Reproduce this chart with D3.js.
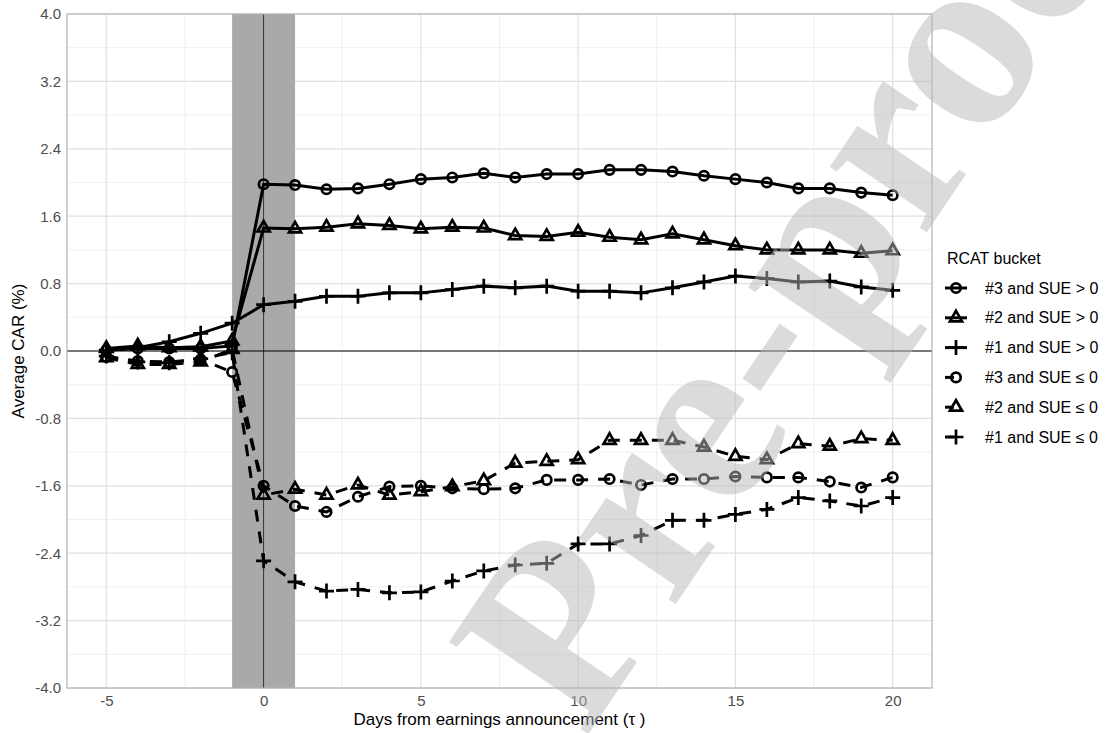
<!DOCTYPE html>
<html>
<head>
<meta charset="utf-8">
<script src="https://cdn.jsdelivr.net/npm/d3@7"></script>
<style>
  body { margin: 0; background: #fff; }
  svg { display: block; font-family: "Liberation Sans", Arial, sans-serif; }
</style>
</head>
<body>
<svg id="chart" width="1110" height="733"></svg>
<script>
// days relative to announcement
var days = [-5, -4, -3, -2, -1, 0, 1, 2, 3, 4, 5, 6, 7, 8, 9, 10, 11, 12, 13, 14, 15, 16, 17, 18, 19, 20];

// average CAR (%) per bucket
var rcat3Pos = [0.01, 0.03, 0.03, 0.03, 0.06, 1.98, 1.97, 1.92, 1.93, 1.98, 2.04, 2.06, 2.11, 2.06, 2.10, 2.10, 2.15, 2.15, 2.13, 2.08, 2.04, 2.00, 1.93, 1.93, 1.88, 1.85];
var rcat2Pos = [0.03, 0.06, 0.04, 0.05, 0.12, 1.46, 1.45, 1.47, 1.51, 1.49, 1.45, 1.47, 1.46, 1.37, 1.36, 1.41, 1.35, 1.32, 1.39, 1.32, 1.25, 1.20, 1.20, 1.20, 1.16, 1.19];
var rcat1Pos = [0.01, 0.04, 0.11, 0.21, 0.33, 0.55, 0.59, 0.65, 0.65, 0.69, 0.69, 0.73, 0.77, 0.75, 0.77, 0.71, 0.71, 0.69, 0.75, 0.82, 0.89, 0.86, 0.82, 0.83, 0.76, 0.72];
var rcat3Neg = [-0.07, -0.12, -0.13, -0.10, -0.25, -1.60, -1.84, -1.91, -1.73, -1.61, -1.60, -1.63, -1.64, -1.63, -1.53, -1.53, -1.52, -1.59, -1.52, -1.52, -1.49, -1.50, -1.50, -1.55, -1.62, -1.50];
var rcat2Neg = [-0.08, -0.16, -0.16, -0.13, 0.02, -1.71, -1.64, -1.71, -1.59, -1.71, -1.67, -1.61, -1.54, -1.33, -1.31, -1.29, -1.06, -1.06, -1.06, -1.14, -1.25, -1.29, -1.10, -1.13, -1.04, -1.06];
var rcat1Neg = [-0.06, -0.13, -0.14, -0.09, -0.02, -2.49, -2.74, -2.85, -2.83, -2.87, -2.86, -2.73, -2.61, -2.54, -2.52, -2.29, -2.29, -2.19, -2.01, -2.01, -1.94, -1.88, -1.74, -1.78, -1.84, -1.74];

var seriesNames = ["#3 and SUE > 0", "#2 and SUE > 0", "#1 and SUE > 0", "#3 and SUE \u2264 0", "#2 and SUE \u2264 0", "#1 and SUE \u2264 0"];
var seriesShapes = ["circle", "triangle", "plus", "circle", "triangle", "plus"];
var seriesDashed = [false, false, false, true, true, true];
var seriesValues = [rcat3Pos, rcat2Pos, rcat1Pos, rcat3Neg, rcat2Neg, rcat1Neg];

var xTicks = [-5, 0, 5, 10, 15, 20];
var xTickLabels = ["-5", "0", "5", "10", "15", "20"];
var xMinor = [-2.5, 2.5, 7.5, 12.5, 17.5];
var yTicks = [-4, -3.2, -2.4, -1.6, -0.8, 0, 0.8, 1.6, 2.4, 3.2, 4];
var yTickLabels = ["-4.0", "-3.2", "-2.4", "-1.6", "-0.8", "0.0", "0.8", "1.6", "2.4", "3.2", "4.0"];
var yMinor = [-3.6, -2.8, -2.0, -1.2, -0.4, 0.4, 1.2, 2.0, 2.8, 3.6];
var eventWindow = [-1, 1];

var svg = d3.select("#chart");
var plotLeft = 67, plotRight = 932, plotTop = 14, plotBottom = 688;

var x = d3.scaleLinear().domain([-6.25, 21.25]).range([plotLeft, plotRight]);
var y = d3.scaleLinear().domain([-4, 4]).range([plotBottom, plotTop]);

var grid = svg.append("g");
grid.selectAll(".hmin").data(yMinor).enter().append("line")
  .attr("x1", plotLeft).attr("x2", plotRight)
  .attr("y1", d => y(d)).attr("y2", d => y(d))
  .attr("stroke", "#ececec").attr("stroke-width", 0.8);
grid.selectAll(".vmin").data(xMinor).enter().append("line")
  .attr("y1", plotTop).attr("y2", plotBottom)
  .attr("x1", d => x(d)).attr("x2", d => x(d))
  .attr("stroke", "#ececec").attr("stroke-width", 0.8);
grid.selectAll(".hmaj").data(yTicks).enter().append("line")
  .attr("x1", plotLeft).attr("x2", plotRight)
  .attr("y1", d => y(d)).attr("y2", d => y(d))
  .attr("stroke", "#e0e0e0").attr("stroke-width", 1.2);
grid.selectAll(".vmaj").data(xTicks).enter().append("line")
  .attr("y1", plotTop).attr("y2", plotBottom)
  .attr("x1", d => x(d)).attr("x2", d => x(d))
  .attr("stroke", "#e0e0e0").attr("stroke-width", 1.2);

// event window shading
svg.append("rect")
  .attr("x", x(eventWindow[0])).attr("y", plotTop)
  .attr("width", x(eventWindow[1]) - x(eventWindow[0]))
  .attr("height", plotBottom - plotTop)
  .attr("fill", "#a9a9a9");

svg.append("line")
  .attr("x1", x(0)).attr("x2", x(0)).attr("y1", plotTop).attr("y2", plotBottom)
  .attr("stroke", "#333").attr("stroke-width", 1);
svg.append("line")
  .attr("x1", plotLeft).attr("x2", plotRight).attr("y1", y(0)).attr("y2", y(0))
  .attr("stroke", "#000").attr("stroke-width", 1);

// lines
var line = d3.line().x((d, i) => x(days[i])).y(d => y(d));
svg.append("g").selectAll("path").data(seriesValues).enter().append("path")
  .attr("d", d => line(d))
  .attr("fill", "none")
  .attr("stroke", "#000")
  .attr("stroke-width", 3)
  .attr("stroke-dasharray", (d, i) => seriesDashed[i] ? "12,10" : null);

function shapePath(shape) {
  if (shape == "circle") {
    var p = d3.path(); p.arc(0, 0, 4.7, 0, 2 * Math.PI); return p.toString();
  }
  if (shape == "triangle") {
    var r = 7;
    return "M0," + (-r) + "L" + (r * 0.866) + "," + (r * 0.5) + "L" + (-r * 0.866) + "," + (r * 0.5) + "Z";
  }
  return "M-7.5,0H7.5M0,-7.5V7.5";
}

// points
seriesValues.forEach(function(vals, s) {
  svg.append("g").selectAll("path").data(vals).enter().append("path")
    .attr("transform", (d, i) => "translate(" + x(days[i]) + "," + y(d) + ")")
    .attr("d", shapePath(seriesShapes[s]))
    .attr("fill", "none")
    .attr("stroke", "#000")
    .attr("stroke-width", 2.7);
});

// panel border
svg.append("rect")
  .attr("x", plotLeft).attr("y", plotTop)
  .attr("width", plotRight - plotLeft).attr("height", plotBottom - plotTop)
  .attr("fill", "none").attr("stroke", "#b3b3b3").attr("stroke-width", 1.2);

// axes
var yAxis = svg.append("g").attr("transform", "translate(" + plotLeft + ",0)")
  .call(d3.axisLeft(y).tickValues(yTicks).tickSize(0).tickPadding(6)
    .tickFormat((d, i) => yTickLabels[i]));
var xAxis = svg.append("g").attr("transform", "translate(0," + plotBottom + ")")
  .call(d3.axisBottom(x).tickValues(xTicks).tickSize(0).tickPadding(7)
    .tickFormat((d, i) => xTickLabels[i]));
[yAxis, xAxis].forEach(function(a) {
  a.select(".domain").remove();
  a.selectAll("text").attr("font-size", 15).attr("fill", "#4d4d4d")
    .attr("font-family", "Liberation Sans, Arial, sans-serif");
});

svg.append("text")
  .attr("x", (plotLeft + plotRight) / 2).attr("y", 725)
  .attr("text-anchor", "middle").attr("font-size", 17).attr("fill", "#000")
  .text("Days from earnings announcement (\u03c4 )");
svg.append("text")
  .attr("transform", "translate(24," + ((plotTop + plotBottom) / 2) + ") rotate(-90)")
  .attr("text-anchor", "middle").attr("font-size", 17).attr("fill", "#000")
  .text("Average CAR (%)");

// legend
var legend = svg.append("g").attr("transform", "translate(945,0)");
legend.append("text").attr("x", 2).attr("y", 264)
  .attr("font-size", 16).attr("fill", "#000").text("RCAT bucket");
var rows = legend.selectAll(".row").data(seriesNames).enter().append("g")
  .attr("transform", (d, i) => "translate(0," + (288 + i * 29.8) + ")");
rows.append("line")
  .attr("x1", 0).attr("x2", 22).attr("y1", 0).attr("y2", 0)
  .attr("stroke", "#000").attr("stroke-width", 3)
  .attr("stroke-dasharray", (d, i) => seriesDashed[i] ? "9,14" : null);
rows.append("path")
  .attr("transform", "translate(11,0)")
  .attr("d", (d, i) => shapePath(seriesShapes[i]))
  .attr("fill", "none").attr("stroke", "#000").attr("stroke-width", 2.7);
rows.append("text")
  .attr("x", 40).attr("y", 5.5)
  .attr("font-size", 16).attr("fill", "#000").text(d => d);

// watermark over everything
svg.append("text")
  .attr("transform", "translate(585,739) rotate(-56)")
  .attr("font-family", "Liberation Serif, Times New Roman, serif")
  .attr("font-weight", "bold").attr("font-size", 255)
  .attr("fill", "#b8b8b8").attr("fill-opacity", 0.5)
  .text("Pre-proof");
</script>
</body>
</html>
